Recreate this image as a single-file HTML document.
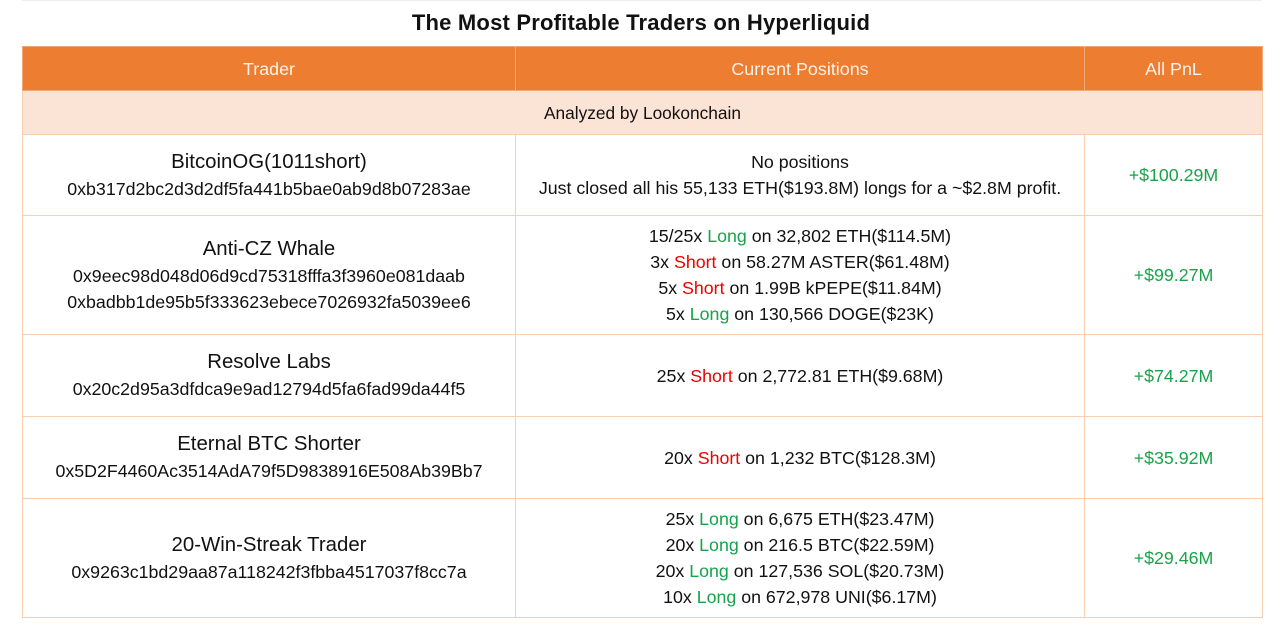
<!DOCTYPE html>
<html><head><meta charset="utf-8"><style>
body{margin:0;width:1280px;height:638px;background:#fff;font-family:"Liberation Sans",Arial,sans-serif;position:relative;overflow:hidden}
.topline{position:absolute;left:22px;right:18px;top:0;height:1px;background:#eee}
h1{position:absolute;top:10px;left:0;width:1282px;text-align:center;margin:0;font-size:22px;font-weight:bold;color:#111;letter-spacing:0.2px}
table{position:absolute;left:22px;top:46px;width:1240px;border-collapse:collapse;table-layout:fixed}
td{border:1px solid #f6cfb3;text-align:center;vertical-align:middle;padding:0;color:#111;font-size:17.8px;line-height:26px}
tr.h td{background:#ed7d31;color:#fff2ea;height:43px;font-size:17.9px;border-color:#f3a875}
tr.s td{background:#fbe4d5;height:43px;font-size:17.3px}
.n{font-size:20.4px;line-height:27px}
.g{color:#16a34a}.r{color:#e00}
.p{color:#19a348;font-size:17.8px}
</style></head><body>
<div class="topline"></div>
<h1>The Most Profitable Traders on Hyperliquid</h1>
<table>
<colgroup><col style="width:493px"><col style="width:569px"><col style="width:178px"></colgroup>
<tr class="h"><td>Trader</td><td>Current Positions</td><td>All PnL</td></tr>
<tr class="s"><td colspan="3">Analyzed by Lookonchain</td></tr>
<tr style="height:81px"><td><div class="n">BitcoinOG(1011short)</div>0xb317d2bc2d3d2df5fa441b5bae0ab9d8b07283ae</td><td>No positions<br>Just closed all his 55,133 ETH($193.8M) longs for a ~$2.8M profit.</td><td class="p">+$100.29M</td></tr>
<tr style="height:119px"><td><div class="n">Anti-CZ Whale</div>0x9eec98d048d06d9cd75318fffa3f3960e081daab<br>0xbadbb1de95b5f333623ebece7026932fa5039ee6</td><td>15/25x <span class="g">Long</span> on 32,802 ETH($114.5M)<br>3x <span class="r">Short</span> on 58.27M ASTER($61.48M)<br>5x <span class="r">Short</span> on 1.99B kPEPE($11.84M)<br>5x <span class="g">Long</span> on 130,566 DOGE($23K)</td><td class="p">+$99.27M</td></tr>
<tr style="height:82px"><td><div class="n">Resolve Labs</div>0x20c2d95a3dfdca9e9ad12794d5fa6fad99da44f5</td><td>25x <span class="r">Short</span> on 2,772.81 ETH($9.68M)</td><td class="p">+$74.27M</td></tr>
<tr style="height:82px"><td><div class="n">Eternal BTC Shorter</div>0x5D2F4460Ac3514AdA79f5D9838916E508Ab39Bb7</td><td>20x <span class="r">Short</span> on 1,232 BTC($128.3M)</td><td class="p">+$35.92M</td></tr>
<tr style="height:119px"><td><div class="n">20-Win-Streak Trader</div>0x9263c1bd29aa87a118242f3fbba4517037f8cc7a</td><td>25x <span class="g">Long</span> on 6,675 ETH($23.47M)<br>20x <span class="g">Long</span> on 216.5 BTC($22.59M)<br>20x <span class="g">Long</span> on 127,536 SOL($20.73M)<br>10x <span class="g">Long</span> on 672,978 UNI($6.17M)</td><td class="p">+$29.46M</td></tr>
</table>
</body></html>
